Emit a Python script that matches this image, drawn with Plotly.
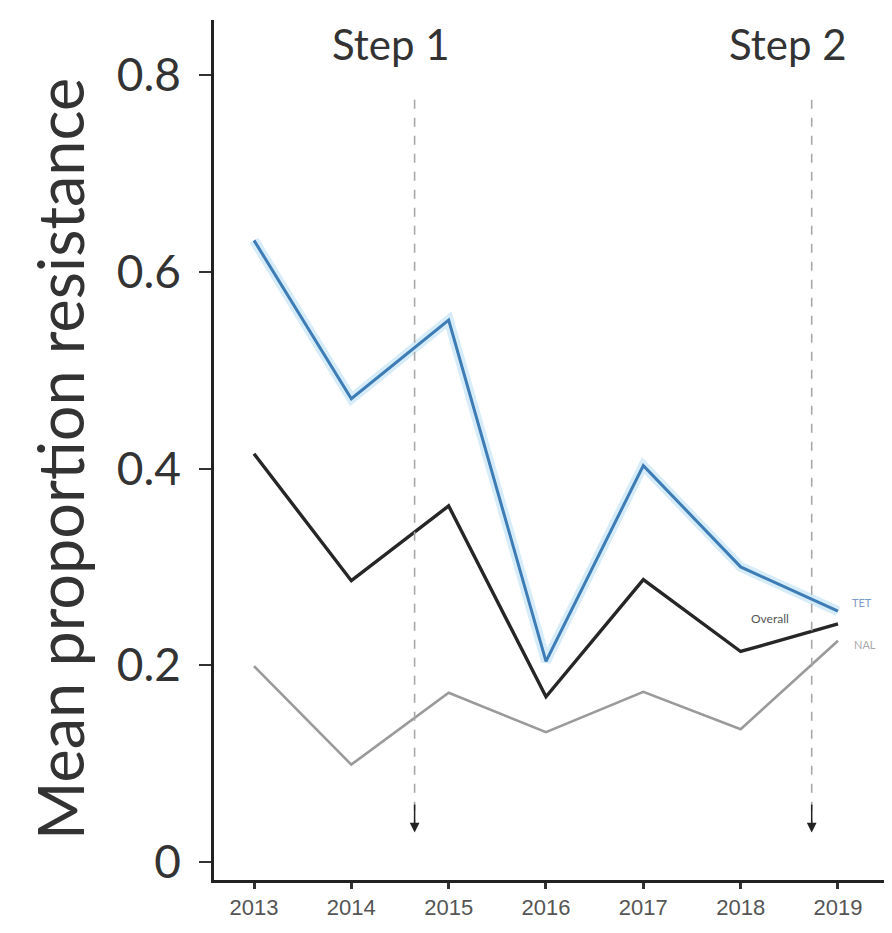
import plotly.graph_objects as go

years = [2013, 2014, 2015, 2016, 2017, 2018, 2019]
tet = [0.632, 0.471, 0.551, 0.204, 0.403, 0.300, 0.255]
overall = [0.415, 0.286, 0.362, 0.168, 0.287, 0.214, 0.242]
nal = [0.199, 0.099, 0.172, 0.132, 0.173, 0.135, 0.225]
step_x = [2014.65, 2018.73]
step_labels = ["Step 1", "Step 2"]
y_ticks = [0, 0.2, 0.4, 0.6, 0.8]
y_tick_text = ["0", "0.2", "0.4", "0.6", "0.8"]

fig = go.Figure()
fig.add_trace(go.Scatter(x=years, y=tet, mode="lines", line=dict(color="#d6ecf8", width=10), hoverinfo="skip", showlegend=False))
fig.add_trace(go.Scatter(x=years, y=tet, mode="lines", line=dict(color="#3d7cb5", width=3), name="TET", showlegend=False))
fig.add_trace(go.Scatter(x=years, y=overall, mode="lines", line=dict(color="#262626", width=3.4), name="Overall", showlegend=False))
fig.add_trace(go.Scatter(x=years, y=nal, mode="lines", line=dict(color="#9a9a9a", width=2.6), name="NAL", showlegend=False))

for sx, lab in zip(step_x, step_labels):
    fig.add_shape(type="line", x0=sx, x1=sx, y0=0.775, y1=0.035, xref="x", yref="y",
                  line=dict(color="#a8a8a8", width=1.6, dash="dash"))
    fig.add_annotation(x=sx, y=0.03, ax=sx, ay=0.06, xref="x", yref="y", axref="x", ayref="y",
                       text="", showarrow=True, arrowhead=2, arrowsize=1.3, arrowwidth=1.5, arrowcolor="#222")
    fig.add_annotation(x=sx - 0.24, y=0.832, xref="x", yref="y", text=lab, showarrow=False,
                       font=dict(family="Lato", size=42, color="#333"))

fig.add_annotation(x=years[-1] - 0.7, y=0.248, xref="x", yref="y", text="Overall", showarrow=False,
                   font=dict(family="Lato", size=12, color="#555"))
fig.add_annotation(x=years[-1] + 0.25, y=0.264, xref="x", yref="y", text="TET", showarrow=False,
                   font=dict(family="Lato", size=11, color="#7a9cc8"))
fig.add_annotation(x=years[-1] + 0.28, y=0.221, xref="x", yref="y", text="NAL", showarrow=False,
                   font=dict(family="Lato", size=11, color="#aaa"))

fig.add_annotation(x=0, y=0.5, xref="paper", yref="paper", xanchor="center", yanchor="middle",
                   xshift=-155, yshift=-9,
                   text="Mean proportion resistance", textangle=-90, showarrow=False,
                   font=dict(family="Lato", size=63, color="#333"))

fig.update_layout(
    width=884, height=925,
    margin=dict(l=206, r=0, t=12, b=53),
    plot_bgcolor="white", paper_bgcolor="white",
    showlegend=False,
    xaxis=dict(range=[2012.589, 2019.555], tickvals=years, ticktext=[str(y) for y in years],
               showgrid=False, zeroline=False, showline=True, linecolor="#222", linewidth=2.5,
               ticks="outside", ticklen=6, tickwidth=2.5, tickcolor="#333",
               tickfont=dict(family="Liberation Sans Narrow, Arial Narrow, Liberation Sans", size=22, color="#555")),
    yaxis=dict(range=[-0.0183, 0.856], tickvals=y_ticks, ticktext=y_tick_text,
               showgrid=False, zeroline=False, showline=True, linecolor="#222", linewidth=2.5,
               ticks="outside", ticklen=12, tickwidth=2, tickcolor="#333", ticklabelstandoff=9,
               tickfont=dict(family="Lato", size=46, color="#333")),
)

fig.write_html("out.html")
